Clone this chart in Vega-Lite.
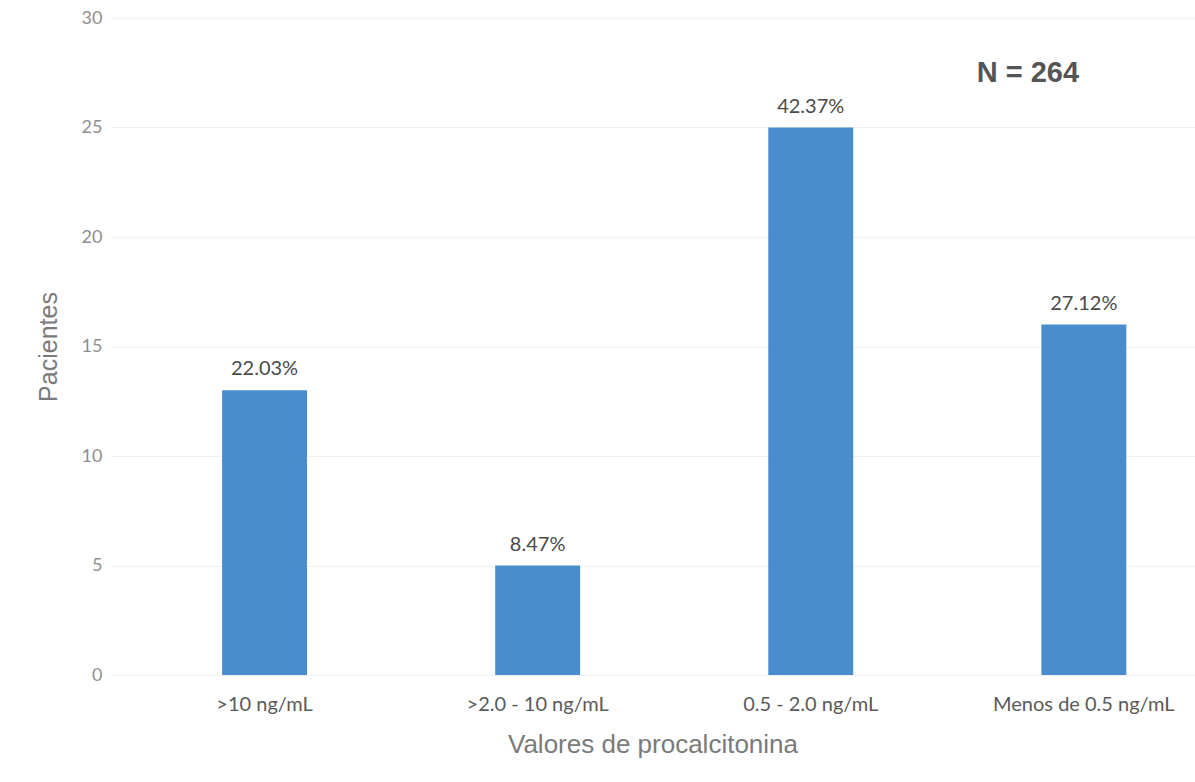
{
  "$schema": "https://vega.github.io/schema/vega-lite/v6.json",
  "autosize": {"type": "none"},
  "width": 1085,
  "height": 657,
  "padding": {"left": 110, "top": 18, "right": 0, "bottom": 107},
  "background": "white",
  "config": {"view": {"stroke": null}},
  "data": {"values": [
    {"cat": ">10 ng/mL", "pacientes": 13, "pct": "22.03%"},
    {"cat": ">2.0 - 10 ng/mL", "pacientes": 5, "pct": "8.47%"},
    {"cat": "0.5 - 2.0 ng/mL", "pacientes": 25, "pct": "42.37%"},
    {"cat": "Menos de 0.5 ng/mL", "pacientes": 16, "pct": "27.12%"}
  ]},
  "encoding": {
    "x": {"field": "cat", "type": "nominal", "sort": null,
      "scale": {"paddingInner": 0.689, "paddingOuter": 0.331, "align": 0.62},
      "axis": {"title": "Valores de procalcitonina", "labelAngle": 0, "domain": false, "ticks": false,
        "labelFont": "Lato", "labelFontSize": 20, "labelColor": "#5a5a5a", "labelPadding": 19, "labelOverlap": false, "labelLimit": 0,
        "titleFont": "Liberation Sans", "titleFontSize": 26, "titleFontWeight": "normal", "titleColor": "#7a7a7a", "titlePadding": 17}},
    "y": {"field": "pacientes", "type": "quantitative",
      "scale": {"domain": [0, 30]},
      "axis": {"title": "Pacientes", "values": [0, 5, 10, 15, 20, 25, 30], "domain": false, "ticks": false,
        "grid": true, "gridColor": "#f0f0f0", "gridWidth": 1, "labelOverlap": false,
        "labelFont": "Lato", "labelFontSize": 18, "labelColor": "#8f8f8f", "labelPadding": 8,
        "titleFont": "Liberation Sans", "titleFontSize": 25, "titleFontWeight": "normal", "titleColor": "#7a7a7a", "titlePadding": 20}}
  },
  "layer": [
    {"mark": {"type": "bar", "color": "#4a8dcf"}},
    {"mark": {"type": "text", "baseline": "bottom", "dy": -11, "font": "Lato", "fontSize": 20, "color": "#4a4a4a"},
      "encoding": {"text": {"field": "pct"}}},
    {"data": {"values": [{"label": "N = 264", "cat": "Menos de 0.5 ng/mL", "y": 27.5}]},
      "mark": {"type": "text", "font": "Liberation Sans", "fontSize": 29, "fontWeight": "bold", "color": "#555555", "dx": -56},
      "encoding": {"x": {"field": "cat", "type": "nominal"}, "y": {"field": "y", "type": "quantitative"}, "text": {"field": "label"}}}
  ]
}
